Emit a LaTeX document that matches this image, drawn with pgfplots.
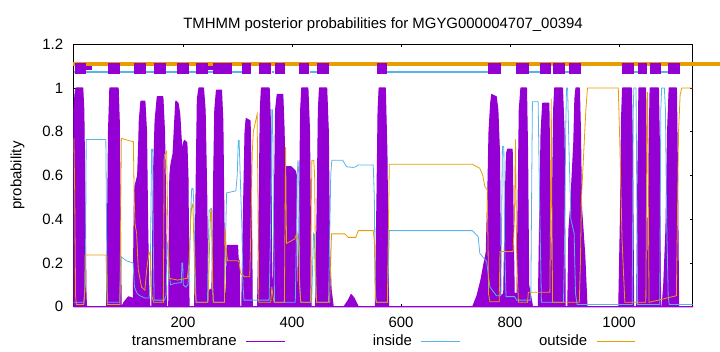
\documentclass[border=0pt]{standalone}
\usepackage{pgfplots}
\pgfplotsset{compat=1.18}
\usepackage{fontspec}
\setmainfont{Liberation Sans}
\definecolor{tmcol}{HTML}{9400D3}
\definecolor{incol}{HTML}{56B4E9}
\definecolor{outcol}{HTML}{E69F00}
\begin{document}
\begin{tikzpicture}[font=\fontsize{15}{18}\selectfont]
\useasboundingbox (-73.4bp,-45.3bp) rectangle (646.6bp,306.7bp);
\begin{axis}[
  scale only axis, width=619.3bp, height=262.4bp,
  xmin=-1, xmax=1135, ymin=0, ymax=1.2,
  clip=false,
  xtick={200,400,600,800,1000},
  ytick={0,0.2,0.4,0.6,0.8,1,1.2},
  tick align=inside, major tick length=3bp,
  tick style={black, line width=0.6bp},
  axis line style={black, line width=0.8bp},
  /pgf/number format/assume math mode=true,
  /pgf/number format/1000 sep={},
  xticklabel style={inner sep=0pt, yshift=-10bp},
  yticklabel style={inner sep=0pt, xshift=-10bp},
  ylabel={probability},
  ylabel style={at={(axis description cs:-0.0904,0.5)}, anchor=center, inner sep=0pt},
  title={TMHMM posterior probabilities for MGYG000004707\_00394},
  every axis title/.style={at={(axis description cs:0.5,1)}, anchor=base, yshift=15.8bp, inner sep=0pt},
  legend style={draw=none, fill=none, at={(axis description cs:0.908,-0.1307)}, anchor=east,
    inner sep=0pt, column sep=0pt, nodes={inner sep=0pt}},
  legend columns=3,
  legend plot pos=right,
  legend image code/.code={\draw[#1] (0bp,0bp) -- (38.5bp,0bp);},
]
% top topology bars
\addplot[color=outcol, line width=3.7bp, forget plot] coordinates {(-1,1.11) (1195,1.11)};
\addplot[color=incol, line width=2.7bp, forget plot, unbounded coords=jump] coordinates {
(0,1.073) (315,1.073) (315,nan)
(362.6,1.073) (366.9,1.073) (366.9,nan)
(433,1.073) (445.2,1.073) (445.2,nan)
(574.7,1.073) (759.9,1.073) (759.9,nan)
(833.9,1.073) (854.7,1.073) (854.7,nan)
(901.1,1.073) (907.8,1.073) (907.8,nan)
(1027.6,1.073) (1034.3,1.073) (1034.3,nan)
(1075.9,1.073) (1088.8,1.073)};
\addplot[color=tmcol, line width=4bp, forget plot, unbounded coords=jump] coordinates {
(22.2,1.091) (32.6,1.091) (32.6,nan)
(245.3,1.09) (255.2,1.09)};
\addplot[color=tmcol, line width=10.5bp, forget plot, unbounded coords=jump] coordinates {
(2,1.09) (22.2,1.09) (22.2,nan)
(63,1.09) (84.5,1.09) (84.5,nan)
(110.7,1.09) (132.1,1.09) (132.1,nan)
(146.3,1.09) (168.3,1.09) (168.3,nan)
(188.4,1.09) (210.4,1.09) (210.4,nan)
(223.3,1.09) (245.3,1.09) (245.3,nan)
(255.2,1.09) (290.1,1.09) (290.1,nan)
(307.6,1.09) (324.7,1.09) (324.7,nan)
(339.3,1.09) (361.4,1.09) (361.4,nan)
(368.8,1.09) (386.5,1.09) (386.5,nan)
(412.7,1.09) (431.6,1.09) (431.6,nan)
(445.2,1.09) (467.2,1.09) (467.2,nan)
(555.2,1.09) (574.7,1.09) (574.7,nan)
(759.9,1.09) (782.6,1.09) (782.6,nan)
(811.2,1.09) (833.9,1.09) (833.9,nan)
(854.7,1.09) (874.3,1.09) (874.3,nan)
(879.1,1.09) (901.1,1.09) (901.1,nan)
(907.8,1.09) (929.8,1.09) (929.8,nan)
(1005.6,1.09) (1027.6,1.09) (1027.6,nan)
(1034.3,1.09) (1051.5,1.09) (1051.5,nan)
(1056.4,1.09) (1076.0,1.09) (1076.0,nan)
(1088.8,1.09) (1110.8,1.09)};
% transmembrane probability
\addplot[fill=tmcol, draw=tmcol, line width=1.2bp, line join=round, forget plot] coordinates {
(0,0) (0,0.9) (2,0.97) (4,1) (16,1) (18,0.9) (20,0.5) (22,0.05) (23,0)
(60,0) (61.5,0.3) (63.5,0.8) (66,1) (81,1) (83,0.85) (85,0.4) (86.5,0)
(88,0) (92,0.02) (100,0.045) (106,0.04) (109,0.03)
(110,0.3) (111,0.5) (112,0.55) (117,0.6) (119,0.75) (120,0.85) (123,0.94) (130,0.94) (133,0.8) (135,0.38) (137,0.1) (139,0)
(143,0) (146,0.6) (149,0.85) (153,0.96) (163,0.96) (166,0.8) (168,0.5) (170,0)
(174,0) (176,0.6) (178,0.65) (182,0.7) (185,0.85) (187,0.94) (191,0.93) (194,0.88) (197,0.75) (199,0.7) (201,0.75) (203,0.76) (207,0.75) (209,0.6) (211,0)
(221.5,0) (224.5,0.6) (226.5,0.95) (229.5,1) (237.5,1) (240.5,0.9) (243.5,0.5) (245.5,0.05) (250,0.08) (253,0.06)
(255,0.3) (256.5,0.6) (258.5,0.9) (261.5,0.99) (270.5,0.99) (273,0.85) (275,0.4) (276.5,0.05) (278,0.02) (280,0.1) (281,0.28) (300,0.28) (301,0.22) (303,0.21) (304,0)
(308,0) (310,0.3) (312,0.55) (314,0.8) (316,0.86) (323,0.85) (325,0.6) (327,0)
(337,0) (340,0.5) (342,0.9) (344,1) (358,1) (361,0.8) (363,0)
(365,0) (368,0.5) (370,0.9) (373,0.97) (383,0.97) (385.5,0.8) (387.5,0.3) (388.5,0.25) (390,0.64) (398,0.64) (406,0.62) (408,0.6) (409,0.1) (410.5,0)
(411,0) (414,0.5) (416,0.9) (418,1) (429,1) (432,0.8) (435,0)
(443.5,0) (446.5,0.5) (448.5,0.9) (450.5,1) (463.5,1) (466.5,0.8) (468.5,0.3) (471.5,0.08) (475.5,0)
(495.5,0) (503.5,0.03) (508.5,0.055) (513.5,0.04) (521.5,0)
(553,0) (556,0.5) (558,0.9) (560,1) (571,1) (574,0.7) (577,0)
(731.5,0) (739.5,0.05) (746.5,0.12) (752.5,0.2) (756.5,0.25) (759.5,0.55) (761.5,0.8) (764.5,0.93) (766.5,0.97) (774.5,0.96) (777.5,0.9) (780.5,0.7) (782.5,0.05)
(784,0.05) (788.5,0.06) (791.5,0.5) (793.5,0.7) (795.5,0.72) (803.5,0.72) (804,0.7) (806,0.3) (807.5,0.06) (813,0.06) (815,0.5) (817,0.9) (820,1) (830,1) (832,0.7) (834,0.1) (839,0.03) (841,0)
(852,0) (855,0.5) (857,0.8) (860,0.93) (871,0.93) (873,0.6) (874,0.2) (876,0.05) (878,0.5) (880,0.9) (882,1) (896,1) (899,0.8) (901,0)
(906,0) (908,0.35) (911,0.45) (914,0.6) (917,0.75) (919,0.95) (921,1) (927,1) (929,0.8) (931,0.45) (937,0.23) (941,0)
(999.5,0) (1002.5,0.4) (1004.5,0.85) (1006.5,1) (1022.5,1) (1024.5,0.7) (1026.5,0)
(1032.5,0) (1034.5,0.6) (1036.5,1) (1048.5,1) (1050,0.6) (1051.5,0.05) (1053,0.05) (1055,0.7) (1057,1) (1072,1) (1074,0.7) (1076,0)
(1079,0) (1082,0.1) (1086,0.35) (1089,0.8) (1092,1) (1105,1) (1107,0.6) (1109,0) (1135,0)
} \closedcycle;
% inside
\addplot[color=incol, line width=0.8bp, forget plot] coordinates {
(0,0.02) (18,0.02) (21,0.1) (22.5,0.765) (58.5,0.765) (60,0.3) (61.5,0.02)
(84,0.02) (85,0.15) (86.5,0.229) (96,0.21) (108.5,0.2) (111,0.09) (116,0.06) (121,0.05) (130,0.04) (138,0.04) (140,0.1) (141.5,0.5) (142.5,0.72) (144.5,0.72) (145.5,0.3) (147,0.03)
(166,0.03) (169,0.05) (171.5,0.29) (173,0.28) (175,0.15) (177,0.1) (185,0.107) (197,0.11) (198,0.2) (199.5,0.2) (200.5,0.1) (205,0.09) (209,0.1) (212,0.2) (214.5,0.45) (216,0.54) (218.5,0.54) (220,0.46) (222,0.2) (224,0.02)
(245,0.02) (246.5,0.3) (248,0.44) (252.5,0.45) (254,0.1) (255.5,0.02)
(276,0.02) (278,0.3) (280,0.52) (297,0.53) (299.5,0.6) (301.5,0.76) (303,0.76) (305,0.6) (308,0.37) (310,0.1) (312,0.03)
(358,0.03) (361,0.4) (363,0.9) (364.5,0.9) (366,0.4) (368,0.02)
(406,0.02) (408,0.3) (409.5,0.6) (411,0.67) (412.5,0.6) (414,0.1) (416,0.02)
(436,0.02) (438,0.2) (439.5,0.335) (441,0.33) (443,0.1) (445,0.02)
(467,0.02) (469,0.3) (471,0.6) (473,0.67) (493,0.67) (500,0.64) (512,0.637) (517,0.64) (521,0.648) (549,0.648) (551,0.5) (552.5,0.1) (554,0.02)
(575,0.02) (577,0.2) (578.5,0.348) (731,0.348) (741.5,0.32) (744.5,0.244) (757,0.206) (763,0.09) (775,0.05) (783,0.05) (784.5,0.4) (786,0.732) (788.5,0.732) (790,0.3) (792.5,0.046) (808.5,0.046) (812,0.03) (838,0.03) (839.5,0.5) (841,0.937) (851.5,0.937) (854,0.5) (857.5,0.02)
(898,0.02) (900,0.3) (902,0.8) (903.5,1) (905.5,1) (908,0.73) (911.5,0.4) (917.5,0.335) (920,0.06) (923,0.01)
(1024,0.01) (1026,0.9) (1027,1) (1031,1) (1032.5,0.5) (1034,0.01)
(1074.5,0.01) (1076.5,0.9) (1078,1) (1083,1) (1085,0.9) (1087,0.43) (1090,0.05) (1092,0.01) (1135,0.01)
};
% outside
\addplot[color=outcol, line width=0.8bp, forget plot] coordinates {
(0,0.77) (1.5,0.5) (3,0.05) (4.5,0.01) (18,0.01) (19.5,0.05) (20.5,0.236) (58.8,0.236) (60,0.1) (61.2,0.01)
(84.5,0.01) (86,0.5) (87,0.77) (100,0.76) (109,0.755) (110.5,0.5) (112,0.38) (115,0.335) (118,0.17) (124,0.09) (130,0.076) (133.5,0.17) (137,0.236) (139.5,0.25) (141,0.15) (143,0.05) (146,0.02)
(164,0.02) (165.5,0.69) (170,0.71) (172,0.4) (174,0.13) (190,0.122) (208,0.13) (211,0.2) (214,0.4) (216.5,0.47) (218,0.47) (220,0.3) (222,0.1) (224,0.02)
(246,0.02) (249,0.3) (251,0.45) (253,0.4) (254.5,0.1) (256,0.02)
(276,0.02) (277.5,0.36) (279.5,0.25) (282,0.21) (301.5,0.21) (303,0.2) (306,0.15) (313,0.137) (322.5,0.137) (325,0.4) (327,0.7) (329,0.8) (336,0.88) (337.5,0.5) (339,0.02)
(361,0.02) (363,0.09) (365,0.05) (367,0.02)
(386,0.02) (387.5,0.5) (388.3,0.73) (389,0.5) (390,0.29) (398,0.3) (405,0.31) (408,0.33) (412,0.3) (414,0.1) (416,0.02)
(434,0.02) (435.5,0.5) (436.5,0.67) (440,0.67) (441.5,0.6) (443,0.2) (445,0.02)
(469,0.02) (471,0.2) (472.5,0.333) (497,0.333) (503,0.317) (517,0.317) (521.5,0.348) (549,0.348) (551,0.3) (553,0.05) (555,0.02)
(575,0.02) (577,0.4) (578.5,0.651) (731,0.651) (744.5,0.633) (750,0.6) (753.8,0.549) (758,0.534) (759.5,0.3) (760.5,0.06) (763,0.023) (780,0.023) (781.5,0.252) (805.5,0.252) (808,0.4) (810,0.765) (811,0.5) (812,0.25) (814,0.1) (815.5,0.02) (832,0.02) (833.5,0.066) (873,0.066) (874.5,0.5) (875.5,0.95) (876.5,0.5) (878,0.02)
(927,0.02) (929,0.2) (931,0.5) (935,0.7) (939,0.9) (942,1) (998.5,1) (1001.5,0.73) (1005.5,0.3) (1010.5,0.02)
(1049,0.02) (1050.5,0.6) (1051.5,0.98) (1052.5,0.98) (1053.5,0.5) (1055,0.02)
(1105,0.05) (1107,0.4) (1109,0.8) (1112,0.97) (1115,1) (1135,1)
};
\addlegendimage{tmcol, line width=0.8bp}
\addlegendentry{\makebox[136bp][r]{transmembrane\hspace{9bp}}}
\addlegendimage{incol, line width=0.8bp}
\addlegendentry{\makebox[136bp][r]{inside\hspace{9bp}}}
\addlegendimage{outcol, line width=0.8bp}
\addlegendentry{\makebox[136bp][r]{outside\hspace{9bp}}}
\end{axis}
\end{tikzpicture}
\end{document}
